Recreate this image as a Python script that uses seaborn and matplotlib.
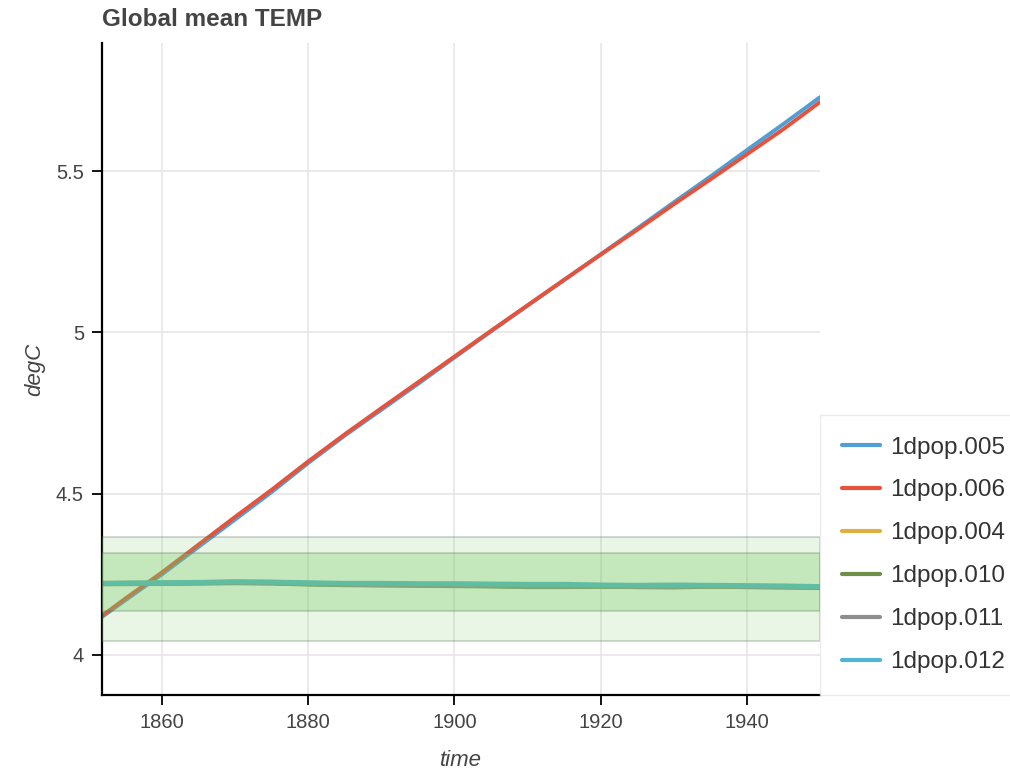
import numpy as np
import pandas as pd
import matplotlib
matplotlib.use("Agg")
import matplotlib.pyplot as plt
import seaborn as sns

# ---- data ----
years = [1851, 1855, 1860, 1865, 1870, 1875, 1880, 1885, 1890, 1895, 1900,
         1905, 1910, 1915, 1920, 1925, 1930, 1935, 1940, 1945, 1950]

run_005 = [4.105, 4.170, 4.250, 4.335, 4.420, 4.505, 4.595, 4.680, 4.760, 4.840, 4.922,
           5.003, 5.083, 5.162, 5.242, 5.322, 5.403, 5.483, 5.565, 5.646, 5.729]
run_006 = [4.108, 4.175, 4.256, 4.342, 4.428, 4.512, 4.600, 4.684, 4.765, 4.845, 4.925,
           5.005, 5.084, 5.163, 5.241, 5.318, 5.397, 5.474, 5.552, 5.630, 5.714]
run_004 = [4.222, 4.222, 4.223, 4.224, 4.226, 4.225, 4.222, 4.220, 4.220, 4.219, 4.218,
           4.216, 4.215, 4.216, 4.214, 4.213, 4.214, 4.215, 4.213, 4.212, 4.211]
run_010 = [4.221, 4.221, 4.222, 4.223, 4.224, 4.223, 4.220, 4.218, 4.217, 4.216, 4.215,
           4.214, 4.212, 4.212, 4.213, 4.212, 4.211, 4.213, 4.212, 4.211, 4.209]
run_011 = [4.221, 4.222, 4.222, 4.224, 4.225, 4.224, 4.221, 4.219, 4.218, 4.217, 4.216,
           4.215, 4.213, 4.213, 4.214, 4.212, 4.212, 4.214, 4.212, 4.211, 4.210]
run_012 = [4.222, 4.223, 4.224, 4.225, 4.227, 4.226, 4.224, 4.222, 4.222, 4.221, 4.221,
           4.220, 4.219, 4.219, 4.217, 4.216, 4.217, 4.216, 4.215, 4.214, 4.212]

run_names = ["1dpop.005", "1dpop.006", "1dpop.004", "1dpop.010", "1dpop.011", "1dpop.012"]
run_colors = ["#4f9fd6", "#e5533c", "#ddb040", "#6d8f4a", "#8e8e8e", "#4fb5d1"]

band_outer = (4.043, 4.366)
band_inner = (4.136, 4.316)

series = [run_005, run_006, run_004, run_010, run_011, run_012]
df = pd.concat(
    [pd.DataFrame({"time": years, "degC": vals, "run": name})
     for name, vals in zip(run_names, series)],
    ignore_index=True)

# ---- style ----
sns.set_theme(style="whitegrid")
plt.rcParams["font.family"] = ["Liberation Sans", "DejaVu Sans"]

fig = plt.figure(figsize=(10.10, 7.73), dpi=100)
ax = fig.add_axes([102 / 1010, 78 / 773, (820 - 102) / 1010, (695 - 43) / 773])

sns.lineplot(data=df, x="time", y="degC", hue="run", hue_order=run_names,
             palette=dict(zip(run_names, run_colors)), linewidth=2.8,
             ax=ax, zorder=2, legend=True)
# flat runs appear as a slightly thicker merged strand
for line, name in zip(ax.get_lines(), run_names):
    if name in ("1dpop.004", "1dpop.010", "1dpop.011", "1dpop.012"):
        line.set_linewidth(3.6)

green = (120 / 255, 200 / 255, 100 / 255)
edge = (0.35, 0.45, 0.35, 0.35)
ax.axhspan(*band_outer, facecolor=green + (0.16,), edgecolor=edge, lw=1.1, zorder=3)
ax.axhspan(*band_inner, facecolor=green + (0.32,), edgecolor=edge, lw=1.1, zorder=3)

ax.set_xlim(1851.8, 1950)
ax.set_ylim(3.876, 5.897)
ax.set_xticks([1860, 1880, 1900, 1920, 1940])
ax.set_yticks([4, 4.5, 5, 5.5])
ax.set_yticklabels(["4", "4.5", "5", "5.5"])

ax.grid(True, color="#e4e4e4", linewidth=1.1)
ax.set_facecolor("white")
for s in ["top", "right"]:
    ax.spines[s].set_visible(False)
for s in ["left", "bottom"]:
    ax.spines[s].set_visible(True)
    ax.spines[s].set_color("black")
    ax.spines[s].set_linewidth(1.6)
ax.tick_params(axis="both", which="major", direction="out", length=7, width=1.3,
               color="black", labelsize=14.5, labelcolor="#444444", bottom=True, left=True, pad=6)

ax.set_xlabel("time", fontsize=16, style="italic", color="#444444", labelpad=13)
ax.set_ylabel("degC", fontsize=16, style="italic", color="#444444", labelpad=8)
ax.set_title("Global mean TEMP", loc="left", fontsize=17.5, fontweight="bold",
             color="#444444", pad=12)

handles, labels = ax.get_legend_handles_labels()
leg = ax.legend(handles, labels, loc="lower left", bbox_to_anchor=(1.0, 0.0),
                frameon=True, fancybox=False, fontsize=17.5, labelspacing=0.86,
                handlelength=1.55, handletextpad=0.45, borderpad=0.9,
                borderaxespad=0.0)
leg.get_frame().set_edgecolor("#e6e6e6")
leg.get_frame().set_linewidth(1.0)
for t in leg.get_texts():
    t.set_color("#333333")
for h in leg.get_lines():
    h.set_linewidth(3)

fig.savefig("out.png", dpi=100)
